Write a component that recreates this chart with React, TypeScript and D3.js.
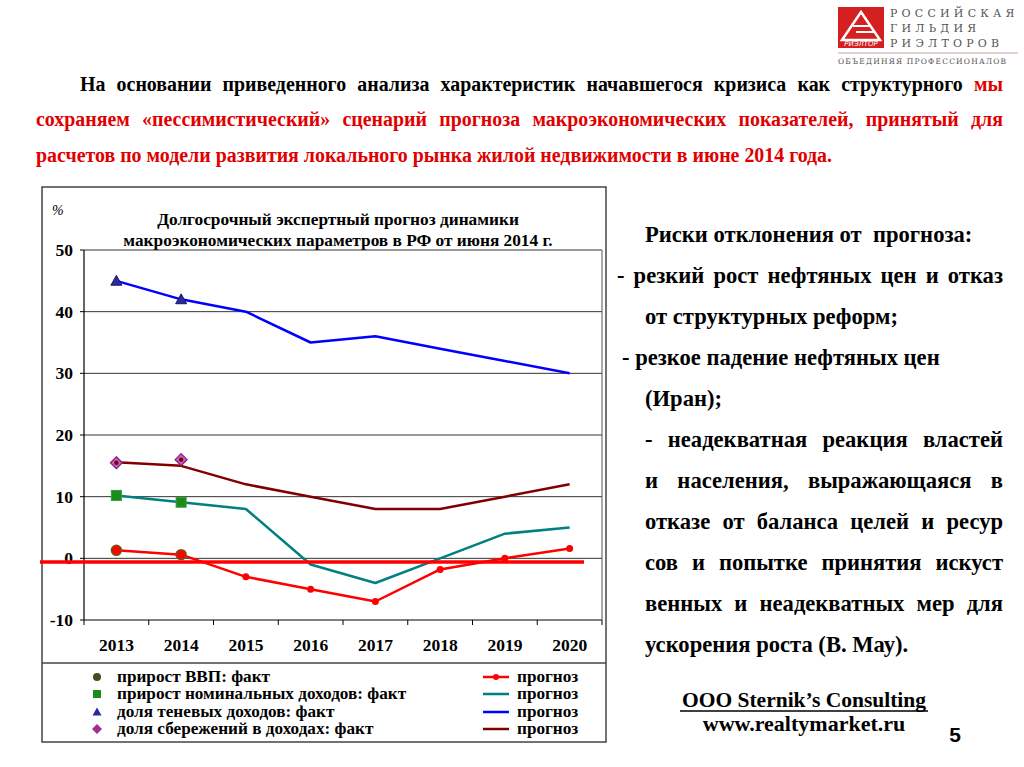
import React, { useLayoutEffect, useRef, useState } from "react";
import * as d3 from "d3";

const years = ["2013", "2014", "2015", "2016", "2017", "2018", "2019", "2020"];
const yTicks = [-10, 0, 10, 20, 30, 40, 50];

// facts
const gdpFact = [1.3, 0.6];
const incomeFact = [10.2, 9.1];
const shadowFact = [45, 42];
const savingsFact = [15.5, 16];

// forecasts
const gdpForecast = [1.3, 0.6, -3, -5, -7, -1.8, 0, 1.6];
const incomeForecast = [10.2, 9.1, 8, -1, -4, 0, 4, 5];
const shadowForecast = [45, 42, 40, 35, 36, 34, 32, 30];
const savingsForecast = [15.6, 15, 12, 10, 8, 8, 10, 12];

const refLineValue = -0.6;

const legendLabels = [
  "прирост ВВП: факт",
  "прирост номинальных доходов: факт",
  "доля теневых доходов: факт",
  "доля сбережений в доходах: факт",
];
const forecastLabel = "прогноз";

const chartTitle = [
  "Долгосрочный экспертный прогноз динамики",
  "макроэкономических параметров в РФ от июня 2014 г.",
];

const riskLines = [
  { t: "Риски отклонения от  прогноза:", x: 645, j: 0 },
  { t: "- резкий рост нефтяных цен и отказ", x: 617, j: 1003 },
  { t: "от структурных реформ;", x: 645, j: 0 },
  { t: "- резкое падение нефтяных цен", x: 622, j: 0 },
  { t: "(Иран);", x: 645, j: 0 },
  { t: "- неадекватная реакция властей", x: 645, j: 1003 },
  { t: "и населения, выражающаяся в", x: 645, j: 1003 },
  { t: "отказе от баланса целей и ресур", x: 645, j: 1003 },
  { t: "сов и попытке принятия искуст", x: 645, j: 1003 },
  { t: "венных и неадекватных мер для", x: 645, j: 1003 },
  { t: "ускорения роста (В. Мау).", x: 645, j: 0 },
];

const serif = "'Liberation Serif', 'Times New Roman', serif";

function JText(props: any) {
  const { target, children, ...rest } = props;
  const ref = useRef<SVGTextElement>(null);
  const [ws, setWs] = useState(0);
  useLayoutEffect(() => {
    const el = ref.current;
    if (!el) return;
    el.setAttribute("word-spacing", "0");
    const w = el.getComputedTextLength();
    const spaces = ((el.textContent || "").trim().match(/ /g) || []).length;
    if (spaces > 0) setWs((target - w) / spaces);
  }, [target]);
  return (
    <text ref={ref} wordSpacing={ws} {...rest}>
      {children}
    </text>
  );
}

export default function App() {
  const left = 84,
    right = 602,
    top = 250,
    bottom = 620;
  const x = d3.scaleBand<string>().domain(years).range([left, right]);
  const cx = (d: string) => (x(d) as number) + x.bandwidth() / 2;
  const y = d3.scaleLinear().domain([-10, 50]).range([bottom, top]);
  const line = d3
    .line<number>()
    .x((_, i) => cx(years[i]))
    .y((v) => y(v));

  const series = [
    { data: savingsForecast, color: "#800000" },
    { data: incomeForecast, color: "#008080" },
    { data: shadowForecast, color: "#0000ff" },
    { data: gdpForecast, color: "#ff0000" },
  ];

  const legendColors = ["#ff0000", "#008080", "#0000ff", "#800000"];
  const legendY = [677, 694, 712, 729];

  const diamond = (px: number, py: number, r: number) =>
    `M${px},${py - r}L${px + r},${py}L${px},${py + r}L${px - r},${py}Z`;
  const tri = (px: number, py: number, r: number) =>
    `M${px},${py - r}L${px + r},${py + r * 0.8}L${px - r},${py + r * 0.8}Z`;

  return (
    <svg width={1024} height={767} style={{ position: "absolute", left: 0, top: 0 }} fontFamily={serif}>
      <rect width={1024} height={767} fill="#fff" />

      {/* Logo */}
      <g>
        <rect x={838} y={7} width={46} height={41} fill="#d42020" />
        <path d="M861,12 L880,40 L842,40 Z" fill="none" stroke="#fff" strokeWidth={2.5} />
        <path d="M853,26 L871,26 M856,32 L874,32" stroke="#fff" strokeWidth={2} />
        <text x={861} y={46} fontSize={7} fill="#fff" textAnchor="middle" fontFamily="'DejaVu Sans', sans-serif" fontStyle="italic">РИЭЛТОР</text>
        <g fill="#555" fontSize={11} fontFamily="'DejaVu Serif', serif" letterSpacing={4.2}>
          <text x={890} y={17}>РОССИЙСКАЯ</text>
          <text x={890} y={32}>ГИЛЬДИЯ</text>
          <text x={890} y={47}>РИЭЛТОРОВ</text>
        </g>
        <line x1={838} x2={1018} y1={53} y2={53} stroke="#c9a0a0" strokeWidth={1} />
        <text x={838} y={64} fontSize={7.5} fill="#555" letterSpacing={1.2} fontFamily="'DejaVu Serif', serif">ОБЪЕДИНЯЯ ПРОФЕССИОНАЛОВ</text>
      </g>

      {/* Header */}
      <g fontSize={19.9} fontWeight="bold">
        <JText x={80} y={91} target={923}>
          <tspan fill="#000">На основании приведенного анализа характеристик начавшегося кризиса как структурного </tspan>
          <tspan fill="#e00000">мы</tspan>
        </JText>
        <JText x={36} y={126} fill="#e00000" target={967}>
          сохраняем «пессимистический» сценарий прогноза макроэкономических показателей, принятый для
        </JText>
        <text x={36} y={162} fill="#e00000">
          расчетов по модели развития локального рынка жилой недвижимости в июне 2014 года.
        </text>
      </g>

      {/* Chart frame */}
      <rect x={42} y={187} width={564} height={555} fill="#fff" stroke="#444" strokeWidth={1.5} />
      <line x1={42} x2={606} y1={663} y2={663} stroke="#444" strokeWidth={1.5} />

      <text x={52} y={215} fontSize={14} fontStyle="italic">%</text>
      <g fontSize={17.3} fontWeight="bold" textAnchor="middle">
        {chartTitle.map((t, i) => (
          <text key={i} x={338} y={225 + i * 21}>{t}</text>
        ))}
      </g>

      {/* Grid */}
      <g>
        {yTicks.map((t) => (
          <g key={t}>
            <line x1={left} x2={right} y1={y(t)} y2={y(t)} stroke={t === -10 ? "#000" : "#333"} strokeWidth={1} />
            <line x1={left - 4} x2={left} y1={y(t)} y2={y(t)} stroke="#000" />
            <text x={left - 11} y={y(t) + 6} fontSize={17.5} fontWeight="bold" textAnchor="end">{t}</text>
          </g>
        ))}
        <line x1={left} x2={left} y1={top} y2={bottom} stroke="#000" strokeWidth={1.2} />
        <line x1={right} x2={right} y1={top} y2={bottom} stroke="#555" strokeWidth={1} />
        {years.map((yr, i) => (
          <g key={yr}>
            <line x1={x(yr) as number} x2={x(yr) as number} y1={bottom} y2={bottom + 5} stroke="#000" />
            <text x={cx(yr)} y={651} fontSize={17.5} fontWeight="bold" textAnchor="middle">{yr}</text>
            {i === years.length - 1 && (
              <line x1={right} x2={right} y1={bottom} y2={bottom + 5} stroke="#000" />
            )}
          </g>
        ))}
      </g>

      {/* Series lines */}
      {series.map((s, i) => (
        <path key={i} d={line(s.data) as string} fill="none" stroke={s.color} strokeWidth={2.5} strokeLinejoin="round" />
      ))}

      {/* red forecast dots */}
      {gdpForecast.map((v, i) => (
        <circle key={i} cx={cx(years[i])} cy={y(v)} r={3.5} fill="#ff0000" />
      ))}

      {/* Reference line */}
      <line x1={40} x2={584} y1={y(refLineValue)} y2={y(refLineValue)} stroke="#ff0000" strokeWidth={3.5} />

      {/* Fact markers */}
      {savingsFact.map((v, i) => (
        <g key={"s" + i}>
          <path d={diamond(cx(years[i]), y(v), 6)} fill="#c060c0" stroke="#80207a" strokeWidth={1.2} />
          <circle cx={cx(years[i])} cy={y(v)} r={2.2} fill="#800000" />
        </g>
      ))}
      {incomeFact.map((v, i) => (
        <rect key={"i" + i} x={cx(years[i]) - 5} y={y(v) - 5} width={10} height={10} fill="#1a8c1a" stroke="#3a9a3a" />
      ))}
      {shadowFact.map((v, i) => (
        <path key={"t" + i} d={tri(cx(years[i]), y(v), 5.5)} fill="#2a2a9a" stroke="#1a1a6a" />
      ))}
      {gdpFact.map((v, i) => (
        <circle key={"g" + i} cx={cx(years[i])} cy={y(v)} r={5} fill="#ff0000" stroke="#6b5a1a" strokeWidth={1.5} />
      ))}

      {/* Legend */}
      <g fontSize={17.2} fontWeight="bold">
        {legendLabels.map((l, i) => (
          <g key={i}>
            {i === 0 && <circle cx={97} cy={legendY[i]} r={4} fill="#4a4a1a" />}
            {i === 1 && <rect x={93} y={legendY[i] - 4} width={8} height={8} fill="#1a8c1a" />}
            {i === 2 && <path d={tri(97, legendY[i], 4.5)} fill="#2a2a9a" />}
            {i === 3 && <path d={diamond(97, legendY[i], 5)} fill="#a03090" />}
            <text x={117} y={legendY[i] + 5}>{l}</text>
            <line x1={483} x2={509} y1={legendY[i]} y2={legendY[i]} stroke={legendColors[i]} strokeWidth={2.5} />
            {i === 0 && <circle cx={496} cy={legendY[i]} r={3} fill="#ff0000" />}
            <text x={517} y={legendY[i] + 5}>{forecastLabel}</text>
          </g>
        ))}
      </g>

      {/* Right text */}
      <g fontSize={22.6} fontWeight="bold">
        {riskLines.map((r, i) =>
          r.j ? (
            <JText key={i} x={r.x} y={242 + i * 41} target={r.j - r.x}>{r.t}</JText>
          ) : (
            <text key={i} x={r.x} y={242 + i * 41} style={{ whiteSpace: "pre" }}>{r.t}</text>
          )
        )}
      </g>

      {/* Footer */}
      <g fontWeight="bold" textAnchor="middle">
        <text x={804} y={707} fontSize={21.5}>OOO Sternik’s Consulting</text>
        <line x1={680} x2={928} y1={711} y2={711} stroke="#000" strokeWidth={1.5} />
        <text x={804} y={731} fontSize={22}>www.realtymarket.ru</text>
      </g>
      <text x={955} y={742} fontSize={21} fontWeight="bold" fontFamily="'Liberation Sans', Arial, sans-serif" textAnchor="middle">5</text>
    </svg>
  );
}
